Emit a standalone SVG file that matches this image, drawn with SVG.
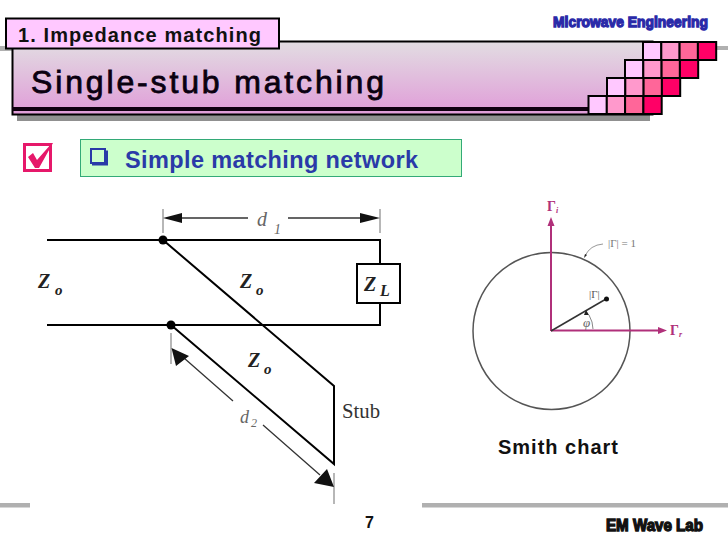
<svg xmlns="http://www.w3.org/2000/svg" width="728" height="546" viewBox="0 0 728 546">
<style>
.s{font-family:"Liberation Sans",Arial,sans-serif}
.b{font-weight:bold}
.ser{font-family:"Liberation Serif","Times New Roman",serif}
.w{stroke:#000;fill:none;stroke-width:2}
.t{stroke:#333;fill:none;stroke-width:1.3}
.g{stroke:#888;fill:none;stroke-width:1.2}
.ax{stroke:#b0307a;fill:none;stroke-width:2}
.sq{stroke:#000;stroke-width:2}
.a{fill:#ffc8ff}.c{fill:#ff99cc}.d{fill:#ff6699}.e{fill:#ff0066}
.z{font-family:"Liberation Serif",serif;font-weight:bold;font-style:italic;fill:#222}
</style>
<defs>
<linearGradient id="bar" x1="0" y1="0" x2="0" y2="1"><stop offset="0" stop-color="#e2dde2"/><stop offset="1" stop-color="#e09cd8"/></linearGradient>
</defs>
<rect width="728" height="546" fill="#fff"/>
<g id="header">
<rect x="0" y="46" width="14" height="5" fill="#b0b0b0"/>
<rect x="714" y="46" width="14" height="4" fill="#b0b0b0"/>
<rect x="17" y="115" width="633" height="6" fill="#909090"/>
<rect x="12.500" y="41.500" width="640" height="73" fill="url(#bar)" stroke="#000" stroke-width="2"/>
<rect x="12" y="107" width="580" height="4" fill="#100010"/>
<g id="squares">
<rect class="sq a" x="643" y="42" width="18.300" height="18"/><rect class="sq c" x="661.300" y="42" width="18.300" height="18"/><rect class="sq d" x="679.600" y="42" width="18.300" height="18"/><rect class="sq e" x="697.900" y="42" width="18.300" height="18"/>
<rect class="sq a" x="625" y="60" width="18.300" height="18"/><rect class="sq c" x="643.300" y="60" width="18.300" height="18"/><rect class="sq d" x="661.600" y="60" width="18.300" height="18"/><rect class="sq e" x="679.900" y="60" width="18.300" height="18"/>
<rect class="sq a" x="607" y="78" width="18.300" height="18"/><rect class="sq c" x="625.300" y="78" width="18.300" height="18"/><rect class="sq d" x="643.600" y="78" width="18.300" height="18"/><rect class="sq e" x="661.900" y="78" width="18.300" height="18"/>
<rect class="sq a" x="588.500" y="96" width="18.300" height="18"/><rect class="sq c" x="606.800" y="96" width="18.300" height="18"/><rect class="sq d" x="625.100" y="96" width="18.300" height="18"/><rect class="sq e" x="643.400" y="96" width="18.300" height="18"/>
</g>
<rect x="6" y="18.500" width="273" height="30" fill="#ffc8ff" stroke="#000" stroke-width="2"/>
<text class="s b" x="18" y="42" font-size="20" textLength="243" fill="#111">1. Impedance matching</text>
<text class="s" x="31" y="93" font-size="32" textLength="353" fill="#0a0010" stroke="#0a0010" stroke-width="0.8">Single-stub matching</text>
<text class="s b" x="553" y="27" font-size="15" textLength="155" lengthAdjust="spacingAndGlyphs" fill="#2a2aa8" stroke="#2a2aa8" stroke-width="1.300">Microwave Engineering</text>
</g>
<g id="checkbox">
<rect x="24.500" y="144.500" width="26" height="26" fill="none" stroke="#e6186a" stroke-width="3"/>
<path d="M28 157L33 153L37 160L52 143H53L39 168H35Z" fill="#e6186a"/>
</g>
<g id="banner">
<rect x="80.500" y="139.500" width="381" height="37" fill="#ccffcc" stroke="#33aa77"/>
<path d="M91 149h14v14h-14z" fill="none" stroke="#2a3aa8" stroke-width="2"/>
<path d="M92 164.500h15v-14" fill="none" stroke="#2a3aa8" stroke-width="2"/>
<text class="s b" x="125" y="168" font-size="23.500" fill="#2a3aa8" textLength="293">Simple matching network</text>
</g>
<g id="connectors">
<path class="w" d="M47 240H380V264M380 303V325H47"/>
<path class="w" d="M163 240L334 386V464L171 325"/>
<circle cx="163" cy="240" r="4.500" fill="#000"/>
<circle cx="171" cy="325" r="4.500" fill="#000"/>
<path class="g" d="M163 209V233M380 209V233M171 333V364M334 473V504"/>
<path class="t" d="M178 218H248M288 218H365M184 358L233 401M263 425L320 475"/>
<path d="M163 218L182 213V223ZM380 218L360 213V223Z" fill="#111"/>
<path d="M171.500 348L189 356L176 366ZM334 487L314 483L327 469Z" fill="#111"/>
</g>
<g id="load">
<rect x="357" y="264" width="43" height="39" fill="#fff" stroke="#000" stroke-width="2"/>
<text class="z" x="364" y="291" font-size="20">Z</text>
<text class="z" x="380" y="296" font-size="16">L</text>
</g>
<g id="labels">
<text class="z" x="38" y="288" font-size="20">Z</text><text class="z" x="55" y="295" font-size="15">o</text>
<text class="z" x="240" y="288" font-size="20">Z</text><text class="z" x="256" y="295" font-size="15">o</text>
<text class="z" x="248" y="367" font-size="20">Z</text><text class="z" x="264" y="374" font-size="15">o</text>
<text class="ser" x="257" y="226" font-size="20" font-style="italic" fill="#666">d</text><text class="ser" x="274" y="234" font-size="14" font-style="italic" fill="#666">1</text>
<text class="ser" x="240" y="423" font-size="18" font-style="italic" fill="#666">d</text><text class="ser" x="251" y="427" font-size="12" font-style="italic" fill="#666">2</text>
<text class="ser" x="342" y="418" font-size="21" fill="#333" textLength="38" lengthAdjust="spacingAndGlyphs">Stub</text>
</g>
<g id="chart">
<circle cx="551.500" cy="331" r="78.500" fill="none" stroke="#555" stroke-width="1.500"/>
<path class="ax" d="M551 331V222M551 330.500H662"/>
<path d="M551 217L554.500 226H547.500ZM667 330.500L658 327V334Z" fill="#b0307a"/>
<path d="M551 331L606 299" stroke="#333" stroke-width="1.500" fill="none"/>
<circle cx="606.500" cy="299" r="2.500" fill="#111"/>
<path d="M589 315Q593 322 593 329" stroke="#888" fill="none"/>
<path d="M586 310l3 5 -5 0z" fill="#222"/>
<path d="M585 256Q590 245 603 244" stroke="#999" fill="none"/>
<path d="M584 258l1-4 2 1z" fill="#222"/>
<text class="ser b" x="547" y="211" font-size="14" fill="#b0307a">Γ<tspan font-size="8" dy="2" font-style="italic">i</tspan></text>
<text class="ser b" x="670" y="335" font-size="14" fill="#b0307a">Γ<tspan font-size="8" dy="2" font-style="italic">r</tspan></text>
<text class="ser" x="608" y="247" font-size="11" fill="#777">|Γ| = 1</text>
<text class="ser" x="589" y="298" font-size="11" fill="#555">|Γ|</text>
<text class="ser" x="583" y="327" font-size="13" font-style="italic" fill="#666">φ</text>
<text class="s b" x="498" y="454" font-size="20" letter-spacing="1" fill="#111">Smith chart</text>
</g>
<g id="footer">
<rect x="0" y="503" width="30" height="4.500" fill="#b0b0b0"/>
<rect x="422" y="503" width="306" height="4.500" fill="#b0b0b0"/>
<text class="s b" x="365" y="528" font-size="16" fill="#111">7</text>
<text class="s b" x="606" y="531" font-size="16" textLength="97" lengthAdjust="spacingAndGlyphs" fill="#111" stroke="#111" stroke-width="1.300">EM Wave Lab</text>
</g>
</svg>
